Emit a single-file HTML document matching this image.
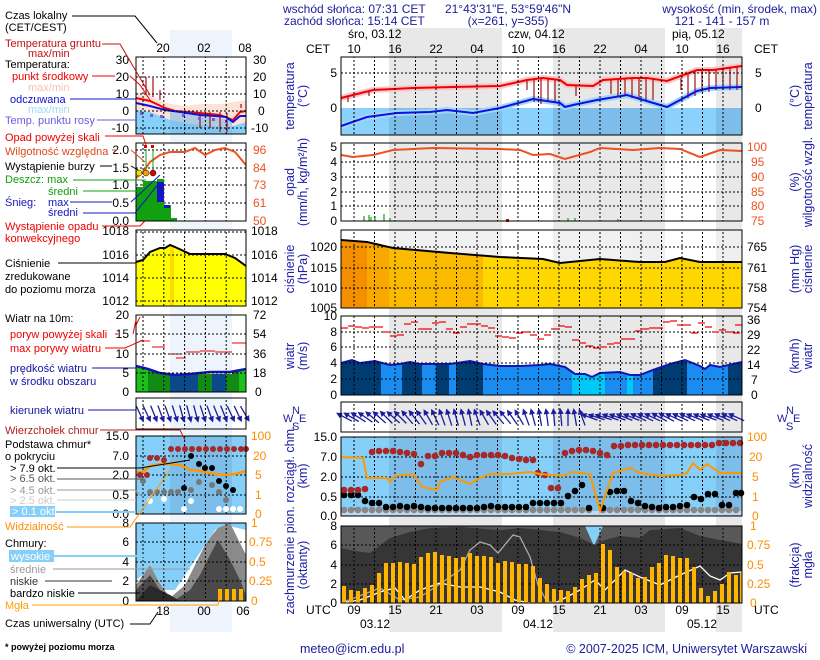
<!DOCTYPE html>
<html><head><meta charset="utf-8"><style>
body{margin:0;background:#fff}
svg{display:block;font-family:"Liberation Sans",sans-serif}
</style></head><body>
<svg width="820" height="660" viewBox="0 0 820 660" xmlns="http://www.w3.org/2000/svg" font-size="12">
<defs>
<pattern id="vg" x="353.5" y="0" width="20.5" height="4" patternUnits="userSpaceOnUse"><rect x="0" y="0" width="1" height="2" fill="#000"/></pattern>
<pattern id="vgl" x="142.5" y="0" width="20.8" height="4" patternUnits="userSpaceOnUse"><rect x="0" y="0" width="1" height="2" fill="#000"/></pattern>
<g id="ar"><line x1="0" y1="9" x2="0" y2="-7" stroke="#1c1c9c" stroke-width="1.3"/><path d="M0,-9 L-3,-3 L3,-3Z" fill="#1c1c9c"/></g>
</defs>
<g fill="#e8e8e8"><rect x="389" y="28" width="113" height="604"/><rect x="553" y="28" width="112" height="604"/><rect x="716" y="28" width="26" height="604"/></g>
<rect x="170" y="30" width="62" height="602" fill="#eef4fc"/>

<g fill="#1c1c9c" font-size="12">
<text x="283" y="13">wschód słońca: 07:31 CET</text>
<text x="284" y="25">zachód słońca: 15:14 CET</text>
<text x="508" y="13" text-anchor="middle">21°43'31"E, 53°59'46"N</text>
<text x="508" y="25" text-anchor="middle">(x=261, y=355)</text>
<text x="817" y="13" text-anchor="end">wysokość (min, środek, max)</text>
<text x="722" y="25" text-anchor="middle">121 - 141 - 157 m</text>
</g>
<g fill="#000">
<text x="348" y="38">śro, 03.12</text><text x="508" y="38">czw, 04.12</text><text x="672" y="38">pią, 05.12</text>
<text x="306" y="53">CET</text><text x="754" y="53">CET</text>
<g text-anchor="middle"><text x="354" y="53">10</text><text x="395" y="53">16</text><text x="436" y="53">22</text><text x="477" y="53">04</text><text x="518" y="53">10</text><text x="559" y="53">16</text><text x="600" y="53">22</text><text x="641" y="53">04</text><text x="682" y="53">10</text><text x="723" y="53">16</text>
<text x="354" y="614">09</text><text x="395" y="614">15</text><text x="436" y="614">21</text><text x="477" y="614">03</text><text x="518" y="614">09</text><text x="559" y="614">15</text><text x="600" y="614">21</text><text x="641" y="614">03</text><text x="682" y="614">09</text><text x="723" y="614">15</text>
<text x="375" y="628">03.12</text><text x="538" y="628">04.12</text><text x="702" y="628">05.12</text></g>
<text x="306" y="614">UTC</text><text x="754" y="614">UTC</text>
</g>

<!-- P1 -->
<rect x="341" y="57" width="401" height="78" fill="#fff"/>
<g fill="#e8e8e8"><rect x="389" y="57" width="113" height="51"/><rect x="553" y="57" width="112" height="51"/><rect x="716" y="57" width="26" height="51"/></g>
<rect x="341" y="108" width="401" height="27" fill="#8ad2fb"/>
<g fill="#7cbde9"><rect x="389" y="108" width="113" height="27"/><rect x="553" y="108" width="112" height="27"/><rect x="716" y="108" width="26" height="27"/></g>
<polyline points="341,126 367,117 397,113 430,112 447,110 473,113 500,108 533,99 560,103 565,107 573,105 597,100 627,95 650,102 667,107 697,91 710,88 742,87" fill="none" stroke="#9fd8fb" stroke-width="6"/>
<polyline points="341,98 373,90 413,88 453,87 500,86 527,80 543,78 560,80 567,85 593,86 603,80 633,78 647,78 667,81 697,70 713,70 742,66" fill="none" stroke="#f8c8c8" stroke-width="6"/>
<g stroke="#a01010" stroke-width="1.2">
<line x1="348" y1="96" x2="348" y2="102"/><line x1="369" y1="92" x2="369" y2="96"/><line x1="527" y1="81" x2="527" y2="90"/><line x1="534" y1="79" x2="534" y2="102"/><line x1="541" y1="78" x2="541" y2="104"/><line x1="548" y1="78" x2="548" y2="102"/><line x1="555" y1="79" x2="555" y2="102"/><line x1="576" y1="86" x2="576" y2="96"/><line x1="611" y1="79" x2="611" y2="94"/><line x1="618" y1="78" x2="618" y2="97"/><line x1="625" y1="78" x2="625" y2="95"/><line x1="632" y1="78" x2="632" y2="98"/><line x1="639" y1="78" x2="639" y2="98"/><line x1="646" y1="78" x2="646" y2="100"/><line x1="653" y1="79" x2="653" y2="100"/><line x1="681" y1="78" x2="681" y2="90"/><line x1="688" y1="74" x2="688" y2="98"/><line x1="695" y1="71" x2="695" y2="96"/><line x1="702" y1="70" x2="702" y2="92"/><line x1="709" y1="70" x2="709" y2="92"/><line x1="716" y1="69" x2="716" y2="90"/><line x1="723" y1="68" x2="723" y2="90"/><line x1="730" y1="68" x2="730" y2="90"/><line x1="737" y1="67" x2="737" y2="90"/>
</g>
<polyline points="341,98 373,90 413,88 453,87 500,86 527,80 543,78 560,80 567,85 593,86 603,80 633,78 647,78 667,81 697,70 713,70 742,66" fill="none" stroke="#f00000" stroke-width="2"/>
<polyline points="341,126 367,117 397,113 430,112 447,110 473,113 500,108 533,99 560,103 565,107 573,105 597,100 627,95 650,102 667,107 697,91 710,88 742,87" fill="none" stroke="#1010e0" stroke-width="2"/>
<rect x="341" y="57" width="401" height="78" fill="url(#vg)"/>
<line x1="341" y1="73" x2="742" y2="73" stroke="#000" stroke-dasharray="2,2"/>
<rect x="341" y="57" width="401" height="78" fill="none" stroke="#000"/>
<g text-anchor="end"><text x="337" y="77">5</text><text x="337" y="112">0</text></g>
<text x="755" y="77">5</text><text x="755" y="112">0</text>

<!-- P2 -->
<rect x="341" y="143" width="401" height="78" fill="#fff"/>
<g fill="#e8e8e8"><rect x="389" y="143" width="113" height="78"/><rect x="553" y="143" width="112" height="78"/><rect x="716" y="143" width="26" height="78"/></g>
<g stroke="#000" stroke-dasharray="2,2"><line x1="341" y1="162" x2="742" y2="162"/><line x1="341" y1="177" x2="742" y2="177"/><line x1="341" y1="192" x2="742" y2="192"/><line x1="341" y1="206" x2="742" y2="206"/></g>
<rect x="341" y="143" width="401" height="78" fill="url(#vg)"/>
<g stroke="#10a010" stroke-width="1.2"><line x1="364" y1="221" x2="364" y2="216"/><line x1="369" y1="221" x2="369" y2="215"/><line x1="371" y1="221" x2="371" y2="217"/><line x1="375" y1="221" x2="375" y2="216"/><line x1="384" y1="221" x2="384" y2="214"/><line x1="390" y1="221" x2="390" y2="218"/><line x1="568" y1="221" x2="568" y2="218"/><line x1="575" y1="221" x2="575" y2="218"/><line x1="618" y1="221" x2="618" y2="219"/></g>
<rect x="506" y="219" width="3" height="3" fill="#e00000"/>
<polyline points="341,155 353,157 373,155 393,150 433,148 500,149 520,150 533,155 550,154 565,159 590,152 600,148 633,150 660,148 680,149 700,157 720,150 742,151" fill="none" stroke="#f05020" stroke-width="2"/>
<rect x="341" y="143" width="401" height="78" fill="none" stroke="#000"/>
<g text-anchor="end"><text x="337" y="151">5</text><text x="337" y="166">4</text><text x="337" y="181">3</text><text x="337" y="196">2</text><text x="337" y="210">1</text><text x="337" y="225">0</text></g>
<g fill="#f05020"><text x="747" y="151">100</text><text x="751" y="166">95</text><text x="751" y="181">90</text><text x="751" y="196">85</text><text x="751" y="210">80</text><text x="751" y="225">75</text></g>

<!-- P3 -->
<rect x="341" y="230" width="142" height="78" fill="#fbbb00"/>
<rect x="341" y="230" width="26" height="78" fill="#f49000"/>
<rect x="367" y="230" width="22" height="78" fill="#f9a800"/>
<rect x="483" y="230" width="259" height="78" fill="#ffd600"/>
<polygon points="341,230 341,240 367,242 393,248 450,253 500,257 543,259 560,263 600,259 640,262 665,262 680,258 700,262 742,262 742,230" fill="#fff"/>
<g fill="#ececec" opacity="0.8"><polygon points="389,230 389,247 450,253 500,257 502,257 502,230"/><polygon points="553,230 553,262 560,263 600,259 640,262 665,262 665,230"/><polygon points="716,230 716,262 742,262 742,230"/></g>
<polyline points="341,240 367,242 393,248 450,253 500,257 543,259 560,263 600,259 640,262 665,262 680,258 700,262 742,262" fill="none" stroke="#000" stroke-width="2"/>
<g stroke="#000" stroke-dasharray="2,2"><line x1="341" y1="247" x2="742" y2="247"/><line x1="341" y1="268" x2="742" y2="268"/><line x1="341" y1="288" x2="742" y2="288"/></g>
<rect x="341" y="230" width="401" height="78" fill="url(#vg)"/>
<rect x="341" y="230" width="401" height="78" fill="none" stroke="#000"/>
<g text-anchor="end"><text x="337" y="251">1020</text><text x="337" y="272">1015</text><text x="337" y="292">1010</text><text x="337" y="312">1005</text></g>
<text x="747" y="251">765</text><text x="747" y="272">761</text><text x="747" y="292">758</text><text x="747" y="312">754</text>

<!-- P4 -->
<rect x="341" y="316" width="401" height="79" fill="#fff"/>
<g fill="#e8e8e8"><rect x="389" y="316" width="113" height="79"/><rect x="553" y="316" width="112" height="79"/><rect x="716" y="316" width="26" height="79"/></g>
<g>
<rect x="341" y="355" width="40" height="40" fill="#003c72"/><rect x="381" y="355" width="21" height="40" fill="#1a8cf0"/><rect x="402" y="355" width="20" height="40" fill="#003c72"/><rect x="422" y="355" width="14" height="40" fill="#1a8cf0"/><rect x="436" y="355" width="13" height="40" fill="#003c72"/><rect x="449" y="355" width="7" height="40" fill="#1a8cf0"/><rect x="456" y="355" width="27" height="40" fill="#003c72"/><rect x="483" y="355" width="89" height="40" fill="#1a8cf0"/><rect x="572" y="355" width="33" height="40" fill="#00c8f8"/><rect x="605" y="355" width="22" height="40" fill="#1a8cf0"/><rect x="627" y="355" width="6" height="40" fill="#00c8f8"/><rect x="633" y="355" width="20" height="40" fill="#1a8cf0"/><rect x="653" y="355" width="34" height="40" fill="#003c72"/><rect x="687" y="355" width="41" height="40" fill="#1a8cf0"/><rect x="728" y="355" width="14" height="40" fill="#003c72"/>
</g>
<polygon points="341,316 341,363 352,360 360,363 375,361 390,365 400,364 410,362 420,364 450,364 470,361 483,364 500,366 520,366 540,365 550,364 565,367 575,374 585,374 592,377 600,373 620,372 630,375 640,375 653,370 670,364 685,360 700,366 705,369 710,365 720,367 742,362 742,316" fill="#fff"/>
<g fill="#e8e8e8"><polygon points="389,316 389,365 400,364 410,362 420,364 450,364 470,361 483,364 500,366 502,366 502,316"/><polygon points="553,316 553,365 565,367 575,374 585,374 592,377 600,373 620,372 630,375 640,375 653,370 665,366 665,316"/><polygon points="716,316 716,367 720,367 742,362 742,316"/></g>
<polyline points="341,363 352,360 360,363 375,361 390,365 400,364 410,362 420,364 450,364 470,361 483,364 500,366 520,366 540,365 550,364 565,367 575,374 585,374 592,377 600,373 620,372 630,375 640,375 653,370 670,364 685,360 700,366 705,369 710,365 720,367 742,362" fill="none" stroke="#1414b4" stroke-width="2"/>
<g stroke="#000" stroke-dasharray="2,2"><line x1="341" y1="332" x2="742" y2="332"/><line x1="341" y1="347" x2="742" y2="347"/><line x1="341" y1="363" x2="742" y2="363"/><line x1="341" y1="379" x2="742" y2="379"/></g>
<rect x="341" y="316" width="401" height="79" fill="url(#vg)"/>
<g stroke="#f00000" stroke-width="1.2">
<line x1="341" y1="328" x2="348" y2="328"/><line x1="348" y1="326" x2="355" y2="326"/><line x1="355" y1="327" x2="362" y2="327"/><line x1="362" y1="328" x2="369" y2="328"/><line x1="369" y1="327" x2="376" y2="327"/><line x1="376" y1="327" x2="383" y2="327"/><line x1="383" y1="332" x2="390" y2="332"/><line x1="390" y1="336" x2="397" y2="336"/><line x1="397" y1="335" x2="404" y2="335"/><line x1="404" y1="324" x2="411" y2="324"/><line x1="411" y1="322" x2="418" y2="322"/><line x1="418" y1="329" x2="425" y2="329"/><line x1="425" y1="329" x2="432" y2="329"/><line x1="432" y1="323" x2="439" y2="323"/><line x1="439" y1="322" x2="446" y2="322"/><line x1="446" y1="329" x2="453" y2="329"/><line x1="453" y1="333" x2="460" y2="333"/><line x1="460" y1="327" x2="467" y2="327"/><line x1="467" y1="324" x2="474" y2="324"/><line x1="474" y1="324" x2="481" y2="324"/><line x1="481" y1="326" x2="488" y2="326"/><line x1="488" y1="328" x2="495" y2="328"/><line x1="495" y1="336" x2="502" y2="336"/><line x1="502" y1="337" x2="509" y2="337"/><line x1="509" y1="338" x2="516" y2="338"/><line x1="516" y1="333" x2="523" y2="333"/><line x1="523" y1="332" x2="530" y2="332"/><line x1="530" y1="335" x2="537" y2="335"/><line x1="537" y1="339" x2="544" y2="339"/><line x1="544" y1="335" x2="551" y2="335"/><line x1="551" y1="329" x2="558" y2="329"/><line x1="558" y1="326" x2="565" y2="326"/><line x1="565" y1="327" x2="572" y2="327"/><line x1="572" y1="340" x2="579" y2="340"/><line x1="579" y1="343" x2="586" y2="343"/><line x1="586" y1="346" x2="593" y2="346"/><line x1="593" y1="348" x2="600" y2="348"/><line x1="600" y1="347" x2="607" y2="347"/><line x1="607" y1="344" x2="614" y2="344"/><line x1="614" y1="343" x2="621" y2="343"/><line x1="621" y1="339" x2="628" y2="339"/><line x1="628" y1="339" x2="635" y2="339"/><line x1="635" y1="331" x2="642" y2="331"/><line x1="642" y1="329" x2="649" y2="329"/><line x1="649" y1="328" x2="656" y2="328"/><line x1="656" y1="328" x2="663" y2="328"/><line x1="663" y1="322" x2="670" y2="322"/><line x1="670" y1="321" x2="677" y2="321"/><line x1="677" y1="325" x2="684" y2="325"/><line x1="684" y1="325" x2="691" y2="325"/><line x1="691" y1="333" x2="698" y2="333"/><line x1="698" y1="323" x2="705" y2="323"/><line x1="705" y1="327" x2="712" y2="327"/><line x1="712" y1="332" x2="719" y2="332"/><line x1="719" y1="330" x2="726" y2="330"/><line x1="726" y1="332" x2="733" y2="332"/><line x1="733" y1="333" x2="740" y2="333"/><line x1="735" y1="325" x2="742" y2="325"/>
</g>
<rect x="341" y="316" width="401" height="79" fill="none" stroke="#000"/>
<g text-anchor="end"><text x="337" y="320">10</text><text x="337" y="336">8</text><text x="337" y="351">6</text><text x="337" y="367">4</text><text x="337" y="383">2</text><text x="337" y="399">0</text></g>
<text x="747" y="324">36</text><text x="747" y="339">29</text><text x="747" y="354">22</text><text x="747" y="369">14</text><text x="751" y="384">7</text><text x="751" y="399">0</text>

<!-- P5 -->
<rect x="341" y="402" width="401" height="30" fill="#fff"/>
<g fill="#e8e8e8"><rect x="389" y="402" width="113" height="30"/><rect x="553" y="402" width="112" height="30"/><rect x="716" y="402" width="26" height="30"/></g>
<rect x="341" y="402" width="401" height="30" fill="url(#vg)"/>
<g>
<use href="#ar" transform="translate(344,417) rotate(-62)"/><use href="#ar" transform="translate(351,417) rotate(-60)"/><use href="#ar" transform="translate(358,417) rotate(-58)"/><use href="#ar" transform="translate(365,417) rotate(-55)"/><use href="#ar" transform="translate(372,417) rotate(-50)"/><use href="#ar" transform="translate(379,417) rotate(-48)"/><use href="#ar" transform="translate(386,417) rotate(-45)"/><use href="#ar" transform="translate(393,417) rotate(-48)"/><use href="#ar" transform="translate(400,417) rotate(-45)"/><use href="#ar" transform="translate(407,417) rotate(-40)"/><use href="#ar" transform="translate(414,417) rotate(-38)"/><use href="#ar" transform="translate(421,417) rotate(-35)"/><use href="#ar" transform="translate(428,417) rotate(-30)"/><use href="#ar" transform="translate(435,417) rotate(-25)"/><use href="#ar" transform="translate(442,417) rotate(-20)"/><use href="#ar" transform="translate(449,417) rotate(-18)"/><use href="#ar" transform="translate(456,417) rotate(-15)"/><use href="#ar" transform="translate(463,417) rotate(-15)"/><use href="#ar" transform="translate(470,417) rotate(-12)"/><use href="#ar" transform="translate(477,417) rotate(-20)"/><use href="#ar" transform="translate(484,417) rotate(-30)"/><use href="#ar" transform="translate(491,417) rotate(-35)"/><use href="#ar" transform="translate(498,417) rotate(-40)"/><use href="#ar" transform="translate(505,417) rotate(-40)"/><use href="#ar" transform="translate(512,417) rotate(-35)"/><use href="#ar" transform="translate(519,417) rotate(-30)"/><use href="#ar" transform="translate(526,417) rotate(-20)"/><use href="#ar" transform="translate(533,417) rotate(-15)"/><use href="#ar" transform="translate(540,417) rotate(-10)"/><use href="#ar" transform="translate(547,417) rotate(-8)"/><use href="#ar" transform="translate(554,417) rotate(-5)"/><use href="#ar" transform="translate(561,417) rotate(-5)"/><use href="#ar" transform="translate(568,417) rotate(0)"/><use href="#ar" transform="translate(575,417) rotate(-10)"/><use href="#ar" transform="translate(582,417) rotate(-20)"/><use href="#ar" transform="translate(589,417) rotate(-70)"/><use href="#ar" transform="translate(596,417) rotate(-72)"/><use href="#ar" transform="translate(603,417) rotate(-72)"/><use href="#ar" transform="translate(610,417) rotate(-70)"/><use href="#ar" transform="translate(617,417) rotate(-70)"/><use href="#ar" transform="translate(624,417) rotate(-68)"/><use href="#ar" transform="translate(631,417) rotate(-68)"/><use href="#ar" transform="translate(638,417) rotate(-65)"/><use href="#ar" transform="translate(645,417) rotate(-65)"/><use href="#ar" transform="translate(652,417) rotate(-65)"/><use href="#ar" transform="translate(659,417) rotate(-62)"/><use href="#ar" transform="translate(666,417) rotate(-62)"/><use href="#ar" transform="translate(673,417) rotate(-65)"/><use href="#ar" transform="translate(680,417) rotate(-65)"/><use href="#ar" transform="translate(687,417) rotate(-65)"/><use href="#ar" transform="translate(694,417) rotate(-68)"/><use href="#ar" transform="translate(701,417) rotate(-68)"/><use href="#ar" transform="translate(708,417) rotate(-70)"/><use href="#ar" transform="translate(715,417) rotate(-68)"/><use href="#ar" transform="translate(722,417) rotate(-66)"/><use href="#ar" transform="translate(729,417) rotate(-66)"/><use href="#ar" transform="translate(736,417) rotate(-66)"/>
</g>
<rect x="341" y="402" width="401" height="30" fill="none" stroke="#000"/>
<g fill="#1c1c9c" font-size="11"><text x="283" y="422">W</text><text x="292" y="414">N</text><text x="292" y="430">S</text><text x="299" y="422">E</text>
<text x="777" y="422">W</text><text x="786" y="414">N</text><text x="786" y="430">S</text><text x="793" y="422">E</text></g>

<!-- P6 -->
<rect x="341" y="437" width="401" height="79" fill="#86cff9"/>
<g fill="#7cbde9"><rect x="389" y="437" width="113" height="79"/><rect x="553" y="437" width="112" height="79"/><rect x="716" y="437" width="26" height="79"/></g>
<g stroke="#000" stroke-dasharray="2,2"><line x1="341" y1="457" x2="742" y2="457"/><line x1="341" y1="477" x2="742" y2="477"/><line x1="341" y1="497" x2="742" y2="497"/></g>
<rect x="341" y="437" width="401" height="79" fill="url(#vg)"/>
<rect x="341" y="511" width="401" height="4" fill="#c8d8e8"/>
<g fill="#888"><circle cx="344" cy="510" r="3.3"/><circle cx="351" cy="510" r="3.3"/><circle cx="358" cy="510" r="3.3"/><circle cx="365" cy="510" r="3.3"/><circle cx="372" cy="510" r="3.3"/><circle cx="379" cy="510" r="3.3"/><circle cx="386" cy="510" r="3.3"/><circle cx="393" cy="510" r="3.3"/><circle cx="400" cy="510" r="3.3"/><circle cx="407" cy="510" r="3.3"/><circle cx="414" cy="510" r="3.3"/><circle cx="421" cy="510" r="3.3"/><circle cx="428" cy="510" r="3.3"/><circle cx="435" cy="510" r="3.3"/><circle cx="442" cy="510" r="3.3"/><circle cx="449" cy="510" r="3.3"/><circle cx="456" cy="510" r="3.3"/><circle cx="463" cy="510" r="3.3"/><circle cx="470" cy="510" r="3.3"/><circle cx="477" cy="510" r="3.3"/><circle cx="484" cy="510" r="3.3"/><circle cx="491" cy="510" r="3.3"/><circle cx="498" cy="510" r="3.3"/><circle cx="505" cy="510" r="3.3"/><circle cx="512" cy="510" r="3.3"/><circle cx="519" cy="510" r="3.3"/><circle cx="526" cy="510" r="3.3"/><circle cx="533" cy="510" r="3.3"/><circle cx="540" cy="510" r="3.3"/><circle cx="547" cy="510" r="3.3"/><circle cx="554" cy="510" r="3.3"/><circle cx="561" cy="510" r="3.3"/><circle cx="568" cy="510" r="3.3"/><circle cx="575" cy="510" r="3.3"/><circle cx="582" cy="510" r="3.3"/><circle cx="589" cy="510" r="3.3"/><circle cx="603" cy="510" r="3.3"/><circle cx="610" cy="510" r="3.3"/><circle cx="617" cy="510" r="3.3"/><circle cx="624" cy="510" r="3.3"/><circle cx="631" cy="510" r="3.3"/><circle cx="638" cy="510" r="3.3"/><circle cx="645" cy="510" r="3.3"/><circle cx="652" cy="510" r="3.3"/><circle cx="659" cy="510" r="3.3"/><circle cx="666" cy="510" r="3.3"/><circle cx="673" cy="510" r="3.3"/><circle cx="680" cy="510" r="3.3"/><circle cx="687" cy="510" r="3.3"/><circle cx="694" cy="510" r="3.3"/><circle cx="701" cy="510" r="3.3"/><circle cx="708" cy="510" r="3.3"/><circle cx="715" cy="510" r="3.3"/><circle cx="722" cy="510" r="3.3"/><circle cx="729" cy="510" r="3.3"/><circle cx="736" cy="510" r="3.3"/></g>
<g fill="#000"><circle cx="344" cy="495" r="3.3"/><circle cx="351" cy="495" r="3.3"/><circle cx="358" cy="495" r="3.3"/><circle cx="365" cy="501" r="3.3"/><circle cx="372" cy="503" r="3.3"/><circle cx="379" cy="503" r="3.3"/><circle cx="386" cy="507" r="3.3"/><circle cx="393" cy="507" r="3.3"/><circle cx="400" cy="506" r="3.3"/><circle cx="407" cy="507" r="3.3"/><circle cx="414" cy="506" r="3.3"/><circle cx="421" cy="507" r="3.3"/><circle cx="428" cy="508" r="3.3"/><circle cx="435" cy="508" r="3.3"/><circle cx="442" cy="508" r="3.3"/><circle cx="449" cy="508" r="3.3"/><circle cx="456" cy="508" r="3.3"/><circle cx="463" cy="508" r="3.3"/><circle cx="470" cy="508" r="3.3"/><circle cx="477" cy="508" r="3.3"/><circle cx="484" cy="507" r="3.3"/><circle cx="491" cy="506" r="3.3"/><circle cx="498" cy="507" r="3.3"/><circle cx="505" cy="507" r="3.3"/><circle cx="512" cy="507" r="3.3"/><circle cx="519" cy="507" r="3.3"/><circle cx="526" cy="507" r="3.3"/><circle cx="533" cy="503" r="3.3"/><circle cx="540" cy="503" r="3.3"/><circle cx="547" cy="503" r="3.3"/><circle cx="554" cy="503" r="3.3"/><circle cx="561" cy="503" r="3.3"/><circle cx="568" cy="496" r="3.3"/><circle cx="575" cy="491" r="3.3"/><circle cx="582" cy="485" r="3.3"/><circle cx="589" cy="508" r="3.3"/><circle cx="603" cy="508" r="3.3"/><circle cx="610" cy="492" r="3.3"/><circle cx="617" cy="491" r="3.3"/><circle cx="624" cy="491" r="3.3"/><circle cx="631" cy="501" r="3.3"/><circle cx="638" cy="503" r="3.3"/><circle cx="645" cy="506" r="3.3"/><circle cx="652" cy="507" r="3.3"/><circle cx="659" cy="508" r="3.3"/><circle cx="666" cy="507" r="3.3"/><circle cx="673" cy="507" r="3.3"/><circle cx="680" cy="506" r="3.3"/><circle cx="687" cy="505" r="3.3"/><circle cx="694" cy="497" r="3.3"/><circle cx="701" cy="499" r="3.3"/><circle cx="708" cy="494" r="3.3"/><circle cx="715" cy="494" r="3.3"/><circle cx="722" cy="505" r="3.3"/><circle cx="729" cy="505" r="3.3"/><circle cx="736" cy="493" r="3.3"/><circle cx="741" cy="493" r="3.3"/></g>
<g fill="#a82828"><circle cx="344" cy="490" r="3.3"/><circle cx="351" cy="490" r="3.3"/><circle cx="358" cy="490" r="3.3"/><circle cx="365" cy="489" r="3.3"/><circle cx="372" cy="452" r="3.3"/><circle cx="379" cy="451" r="3.3"/><circle cx="386" cy="451" r="3.3"/><circle cx="393" cy="451" r="3.3"/><circle cx="400" cy="452" r="3.3"/><circle cx="407" cy="453" r="3.3"/><circle cx="414" cy="454" r="3.3"/><circle cx="421" cy="464" r="3.3"/><circle cx="428" cy="456" r="3.3"/><circle cx="435" cy="456" r="3.3"/><circle cx="442" cy="453" r="3.3"/><circle cx="449" cy="453" r="3.3"/><circle cx="456" cy="453" r="3.3"/><circle cx="463" cy="455" r="3.3"/><circle cx="470" cy="457" r="3.3"/><circle cx="477" cy="455" r="3.3"/><circle cx="484" cy="455" r="3.3"/><circle cx="491" cy="455" r="3.3"/><circle cx="498" cy="455" r="3.3"/><circle cx="505" cy="456" r="3.3"/><circle cx="512" cy="458" r="3.3"/><circle cx="519" cy="459" r="3.3"/><circle cx="526" cy="460" r="3.3"/><circle cx="533" cy="460" r="3.3"/><circle cx="538" cy="473" r="3.3"/><circle cx="545" cy="475" r="3.3"/><circle cx="551" cy="488" r="3.3"/><circle cx="558" cy="488" r="3.3"/><circle cx="565" cy="453" r="3.3"/><circle cx="572" cy="451" r="3.3"/><circle cx="579" cy="450" r="3.3"/><circle cx="586" cy="450" r="3.3"/><circle cx="593" cy="451" r="3.3"/><circle cx="600" cy="453" r="3.3"/><circle cx="607" cy="455" r="3.3"/><circle cx="614" cy="446" r="3.3"/><circle cx="621" cy="446" r="3.3"/><circle cx="628" cy="445" r="3.3"/><circle cx="635" cy="445" r="3.3"/><circle cx="642" cy="445" r="3.3"/><circle cx="649" cy="445" r="3.3"/><circle cx="656" cy="445" r="3.3"/><circle cx="663" cy="445" r="3.3"/><circle cx="670" cy="445" r="3.3"/><circle cx="677" cy="445" r="3.3"/><circle cx="684" cy="445" r="3.3"/><circle cx="691" cy="445" r="3.3"/><circle cx="698" cy="445" r="3.3"/><circle cx="705" cy="445" r="3.3"/><circle cx="712" cy="445" r="3.3"/><circle cx="719" cy="443" r="3.3"/><circle cx="726" cy="443" r="3.3"/><circle cx="733" cy="443" r="3.3"/><circle cx="740" cy="443" r="3.3"/></g>
<polyline points="341,457 363,458 367,478 387,478 390,482 395,476 413,474 422,487 437,490 440,482 453,477 470,484 480,478 490,474 510,474 530,472 540,474 563,476 573,472 590,474 600,511 613,473 630,468 640,473 660,476 680,475 687,473 693,463 700,470 707,464 720,473 742,473" fill="none" stroke="#ff9800" stroke-width="2"/>
<rect x="341" y="437" width="401" height="79" fill="none" stroke="#000"/>
<g text-anchor="end"><text x="337" y="441">15.0</text><text x="337" y="461">7.0</text><text x="337" y="481">2.0</text><text x="337" y="501">0.5</text><text x="337" y="520">0.0</text></g>
<g fill="#ff8c00"><text x="747" y="441">100</text><text x="749" y="461">20</text><text x="752" y="481">5</text><text x="752" y="501">1</text><text x="752" y="520">0</text></g>

<!-- P7 -->
<rect x="341" y="526" width="401" height="77" fill="#363636"/>
<polygon points="341,526 341,548 355,551 370,553 390,538 410,532 430,528 460,527 500,530 520,528 560,532 580,538 595,545 605,540 620,536 640,538 650,530 680,528 700,536 720,540 742,544 742,526" fill="#585858"/>
<polygon points="585,526 594,546 603,526" fill="#86cff9"/>
<g stroke="#000" stroke-dasharray="2,2"><line x1="341" y1="545" x2="742" y2="545"/><line x1="341" y1="565" x2="742" y2="565"/><line x1="341" y1="584" x2="742" y2="584"/></g>
<rect x="341" y="526" width="401" height="77" fill="url(#vg)"/>
<polyline points="341,603 380,588 400,600 420,597 440,584 460,570 470,550 480,542 490,545 498,553 513,535 520,537 530,557 538,585 547,602 560,603" fill="none" stroke="#aaa" stroke-width="1.3"/>
<polyline points="341,603 360,600 380,592 395,588 405,600 420,590 440,583 460,587 480,587 500,592 515,600 530,603 555,603 565,598 580,590 595,580 605,590 625,570 640,577 660,585 680,575 700,566 710,576 720,580 730,573 742,572" fill="none" stroke="#fff" stroke-width="1.3"/>
<g fill="#ffb400">
<rect x="342" y="586" width="4" height="17"/><rect x="349" y="590" width="4" height="13"/><rect x="356" y="591" width="4" height="12"/><rect x="363" y="588" width="4" height="15"/><rect x="370" y="585" width="4" height="18"/><rect x="377" y="573" width="4" height="30"/><rect x="384" y="563" width="4" height="40"/><rect x="391" y="563" width="4" height="40"/><rect x="398" y="562" width="4" height="41"/><rect x="405" y="563" width="4" height="40"/><rect x="412" y="564" width="4" height="39"/><rect x="419" y="557" width="4" height="46"/><rect x="426" y="553" width="4" height="50"/><rect x="433" y="552" width="4" height="51"/><rect x="440" y="555" width="4" height="48"/><rect x="447" y="556" width="4" height="47"/><rect x="454" y="558" width="4" height="45"/><rect x="461" y="557" width="4" height="46"/><rect x="468" y="553" width="4" height="50"/><rect x="475" y="556" width="4" height="47"/><rect x="482" y="556" width="4" height="47"/><rect x="489" y="557" width="4" height="46"/><rect x="496" y="563" width="4" height="40"/><rect x="503" y="561" width="4" height="42"/><rect x="510" y="562" width="4" height="41"/><rect x="517" y="564" width="4" height="39"/><rect x="524" y="564" width="4" height="39"/><rect x="531" y="566" width="4" height="37"/><rect x="538" y="578" width="4" height="25"/><rect x="545" y="584" width="4" height="19"/><rect x="552" y="589" width="4" height="14"/><rect x="559" y="590" width="4" height="13"/><rect x="566" y="591" width="4" height="12"/><rect x="573" y="587" width="4" height="16"/><rect x="580" y="579" width="4" height="24"/><rect x="587" y="575" width="4" height="28"/><rect x="594" y="573" width="4" height="30"/><rect x="601" y="544" width="4" height="59"/><rect x="608" y="550" width="4" height="53"/><rect x="615" y="567" width="4" height="36"/><rect x="622" y="571" width="4" height="32"/><rect x="629" y="573" width="4" height="30"/><rect x="636" y="578" width="4" height="25"/><rect x="643" y="577" width="4" height="26"/><rect x="650" y="567" width="4" height="36"/><rect x="657" y="563" width="4" height="40"/><rect x="664" y="555" width="4" height="48"/><rect x="671" y="556" width="4" height="47"/><rect x="678" y="558" width="4" height="45"/><rect x="685" y="558" width="4" height="45"/><rect x="692" y="567" width="4" height="36"/><rect x="699" y="588" width="4" height="15"/><rect x="706" y="596" width="4" height="7"/><rect x="713" y="591" width="4" height="12"/><rect x="720" y="584" width="4" height="19"/><rect x="727" y="572" width="4" height="31"/><rect x="734" y="575" width="4" height="28"/><rect x="740" y="573" width="2" height="30"/>
</g>
<rect x="341" y="526" width="401" height="77" fill="none" stroke="#000"/>
<g text-anchor="end"><text x="337" y="530">8</text><text x="337" y="549">6</text><text x="337" y="569">4</text><text x="337" y="588">2</text><text x="337" y="607">0</text></g>
<g fill="#ff8c00"><text x="750" y="530">1</text><text x="747" y="549">0.75</text><text x="747" y="569">0.5</text><text x="747" y="588">0.25</text><text x="750" y="607">0</text></g>

<g fill="#1c1ca8" text-anchor="middle" font-size="12.5">
<text transform="translate(294,96) rotate(-90)">temperatura</text><text transform="translate(307,96) rotate(-90)">(°C)</text>
<text transform="translate(799,96) rotate(-90)">(°C)</text><text transform="translate(812,96) rotate(-90)">temperatura</text>
<text transform="translate(294,182) rotate(-90)">opad</text><text transform="translate(307,182) rotate(-90)">(mm/h, kg/m²/h)</text>
<text transform="translate(799,182) rotate(-90)">(%)</text><text transform="translate(812,182) rotate(-90)">wilgotność wzgl.</text>
<text transform="translate(294,269) rotate(-90)">ciśnienie</text><text transform="translate(307,269) rotate(-90)">(hPa)</text>
<text transform="translate(799,269) rotate(-90)">(mm Hg)</text><text transform="translate(812,269) rotate(-90)">ciśnienie</text>
<text transform="translate(294,356) rotate(-90)">wiatr</text><text transform="translate(307,356) rotate(-90)">(m/s)</text>
<text transform="translate(799,356) rotate(-90)">(km/h)</text><text transform="translate(812,356) rotate(-90)">wiatr</text>
<text transform="translate(294,520) rotate(-90)">zachmurzenie  pion. rozciągł. chm.</text>
<text transform="translate(307,476) rotate(-90)">(km)</text><text transform="translate(307,565) rotate(-90)">(oktanty)</text>
<text transform="translate(799,476) rotate(-90)">(km)</text><text transform="translate(812,476) rotate(-90)">widzialność</text>
<text transform="translate(799,565) rotate(-90)">(frakcja)</text><text transform="translate(812,565) rotate(-90)">mgła</text>
</g>

<!-- LEFT MINI -->
<rect x="136" y="57" width="110" height="77" fill="#fff"/>
<polygon points="136,92 150,95 165,103 185,106 200,104 220,104 246,100 246,134 136,134" fill="#fde2d8"/>
<polygon points="136,110 150,112 170,120 190,124 210,126 230,127 246,122 246,134 136,134" fill="#87d0fa"/>
<polygon points="170,112 232,120 232,134 170,134" fill="#7cbde9" opacity="0.6"/>
<g stroke="#a01010" stroke-width="1.2"><line x1="146" y1="95" x2="146" y2="77"/><line x1="153" y1="97" x2="153" y2="78"/><line x1="160" y1="100" x2="160" y2="90"/><line x1="200" y1="112" x2="200" y2="128"/><line x1="210" y1="112" x2="210" y2="128"/><line x1="220" y1="112" x2="220" y2="132"/><line x1="227" y1="113" x2="227" y2="132"/><line x1="241" y1="108" x2="241" y2="104"/></g>
<polyline points="136,98 150,101 165,108 175,111 200,113 220,115 233,120 240,112 246,111" fill="none" stroke="#f00000" stroke-width="2"/>
<polyline points="136,103 150,106 165,110 180,112 200,115 215,116 226,117 233,122 240,116 246,116" fill="none" stroke="#1010e0" stroke-width="2"/>
<g fill="#7060e0"><rect x="140" y="112" width="3" height="3"/><rect x="150" y="114" width="3" height="3"/><rect x="160" y="115" width="3" height="3"/><rect x="182" y="114" width="3" height="3"/><rect x="198" y="117" width="3" height="3"/><rect x="212" y="118" width="3" height="3"/><rect x="225" y="120" width="3" height="3"/></g>
<g stroke="#000" stroke-dasharray="2,2"><line x1="136" y1="77" x2="246" y2="77"/><line x1="136" y1="94" x2="246" y2="94"/><line x1="136" y1="111" x2="246" y2="111"/><line x1="136" y1="128" x2="246" y2="128"/></g>
<rect x="136" y="57" width="110" height="77" fill="url(#vgl)"/>
<rect x="136" y="57" width="110" height="77" fill="none" stroke="#000"/>
<rect x="136" y="143" width="110" height="78" fill="#fff"/>
<g stroke="#000" stroke-dasharray="2,2"><line x1="136" y1="150" x2="246" y2="150"/><line x1="136" y1="168" x2="246" y2="168"/><line x1="136" y1="185" x2="246" y2="185"/><line x1="136" y1="203" x2="246" y2="203"/></g>
<rect x="136" y="143" width="110" height="78" fill="url(#vgl)"/>
<g fill="#10a010"><rect x="136" y="187" width="7" height="34"/><rect x="143" y="181" width="14" height="40"/><rect x="157" y="179" width="7" height="42"/><rect x="164" y="205" width="7" height="16"/><rect x="171" y="218" width="6" height="3"/></g>
<rect x="157" y="182" width="7" height="20" fill="#1414c0"/><rect x="164" y="205" width="6" height="3" fill="#1414c0"/>
<polyline points="136,178 143,172 150,162 160,155 170,152 185,152 195,148 205,155 215,150 225,148 235,152 246,165" fill="none" stroke="#f05020" stroke-width="2"/>
<g stroke="#10a010"><line x1="146" y1="173" x2="146" y2="149"/><line x1="153" y1="173" x2="153" y2="149"/></g>
<circle cx="139" cy="173" r="3" fill="#f0e000" stroke="#000" stroke-width=".5"/><circle cx="146" cy="173" r="3" fill="#f0a000" stroke="#000" stroke-width=".5"/><circle cx="153" cy="173" r="3" fill="#e00000" stroke="#000" stroke-width=".5"/>
<rect x="144" y="145" width="3" height="3" fill="#e00000"/><rect x="151" y="145" width="3" height="3" fill="#e00000"/>
<rect x="136" y="143" width="110" height="78" fill="none" stroke="#000"/>
<rect x="136" y="230" width="110" height="76" fill="#fff"/>
<polygon points="136,262 143,260 150,252 160,248 165,248 170,245 175,247 190,254 200,254 225,254 235,258 246,266 246,306 136,306" fill="#ffff00"/>
<rect x="170" y="246" width="4" height="60" fill="#ffdc00"/>
<polyline points="136,262 143,260 150,252 160,248 165,248 170,245 175,247 190,254 200,254 225,254 235,258 246,266" fill="none" stroke="#000" stroke-width="2"/>
<g stroke="#000" stroke-dasharray="2,2"><line x1="136" y1="232" x2="246" y2="232"/><line x1="136" y1="255" x2="246" y2="255"/><line x1="136" y1="278" x2="246" y2="278"/><line x1="136" y1="301" x2="246" y2="301"/></g>
<rect x="136" y="230" width="110" height="76" fill="url(#vgl)"/>
<rect x="136" y="230" width="110" height="76" fill="none" stroke="#000"/>
<rect x="136" y="315" width="110" height="77" fill="#fff"/>
<rect x="136" y="366" width="12" height="26" fill="#1cc01c"/><rect x="148" y="366" width="22" height="26" fill="#138a13"/><rect x="170" y="366" width="28" height="26" fill="#0a4a8a"/><rect x="198" y="366" width="14" height="26" fill="#138a13"/><rect x="212" y="366" width="14" height="26" fill="#0a4a8a"/><rect x="226" y="366" width="13" height="26" fill="#138a13"/><rect x="239" y="366" width="7" height="26" fill="#1cc01c"/>
<polygon points="136,315 136,366 148,369 160,373 175,375 190,374 210,372 230,372 246,369 246,315" fill="#fff"/>
<rect x="170" y="315" width="62" height="59" fill="#eef4fc"/>
<polyline points="136,366 148,369 160,373 175,375 190,374 210,372 230,372 246,369" fill="none" stroke="#1414b4" stroke-width="2.5"/>
<g stroke="#f00000"><line x1="136" y1="325" x2="140" y2="317"/><line x1="141" y1="341" x2="150" y2="341"/><line x1="152" y1="347" x2="165" y2="347"/><line x1="170" y1="354" x2="180" y2="354"/><line x1="176" y1="358" x2="186" y2="358"/><line x1="186" y1="352" x2="200" y2="352"/><line x1="200" y1="351" x2="215" y2="351"/><line x1="215" y1="352" x2="232" y2="352"/><line x1="232" y1="343" x2="246" y2="343"/></g>
<g stroke="#000" stroke-dasharray="2,2"><line x1="136" y1="334" x2="246" y2="334"/><line x1="136" y1="354" x2="246" y2="354"/><line x1="136" y1="373" x2="246" y2="373"/></g>
<rect x="136" y="315" width="110" height="77" fill="url(#vgl)"/>
<rect x="136" y="315" width="110" height="77" fill="none" stroke="#000"/>
<rect x="136" y="398" width="110" height="31" fill="#fff"/>
<rect x="170" y="398" width="62" height="31" fill="#eef4fc"/>
<rect x="136" y="398" width="110" height="31" fill="url(#vgl)"/>
<g>
<use href="#ar" transform="translate(140,414) rotate(155)"/><use href="#ar" transform="translate(147,414) rotate(155)"/><use href="#ar" transform="translate(154,414) rotate(158)"/><use href="#ar" transform="translate(161,414) rotate(160)"/><use href="#ar" transform="translate(168,414) rotate(160)"/><use href="#ar" transform="translate(175,414) rotate(162)"/><use href="#ar" transform="translate(182,414) rotate(165)"/><use href="#ar" transform="translate(189,414) rotate(165)"/><use href="#ar" transform="translate(196,414) rotate(165)"/><use href="#ar" transform="translate(203,414) rotate(162)"/><use href="#ar" transform="translate(210,414) rotate(160)"/><use href="#ar" transform="translate(217,414) rotate(158)"/><use href="#ar" transform="translate(224,414) rotate(158)"/><use href="#ar" transform="translate(231,414) rotate(155)"/><use href="#ar" transform="translate(238,414) rotate(155)"/><use href="#ar" transform="translate(245,414) rotate(150)"/>
</g>
<rect x="136" y="398" width="110" height="31" fill="none" stroke="#000"/>
<rect x="136" y="436" width="110" height="78" fill="#86cff9"/>
<rect x="170" y="436" width="62" height="78" fill="#7cbde9"/>
<g stroke="#000" stroke-dasharray="2,2"><line x1="136" y1="456" x2="246" y2="456"/><line x1="136" y1="475" x2="246" y2="475"/><line x1="136" y1="495" x2="246" y2="495"/></g>
<rect x="136" y="436" width="110" height="78" fill="url(#vgl)"/>
<polyline points="136,472 143,472 150,466 160,464 170,464 180,465 190,470 200,471 215,474 225,475 235,474 246,471" fill="none" stroke="#ff9800" stroke-width="2.5"/>
<g fill="#a82828"><circle cx="140" cy="475" r="3"/><circle cx="147" cy="475" r="3"/><circle cx="150" cy="458" r="3"/><circle cx="157" cy="458" r="3"/><circle cx="164" cy="460" r="3"/><circle cx="171" cy="449" r="3"/><circle cx="178" cy="449" r="3"/><circle cx="185" cy="449" r="3"/><circle cx="192" cy="449" r="3"/><circle cx="199" cy="449" r="3"/><circle cx="206" cy="449" r="3"/><circle cx="213" cy="449" r="3"/><circle cx="220" cy="449" r="3"/><circle cx="227" cy="449" r="3"/><circle cx="234" cy="449" r="3"/><circle cx="241" cy="449" r="3"/><circle cx="246" cy="449" r="3"/></g>
<g fill="#000"><circle cx="191" cy="456" r="3"/><circle cx="199" cy="464" r="3"/><circle cx="205" cy="468" r="3"/><circle cx="212" cy="468" r="3"/><circle cx="219" cy="481" r="3"/><circle cx="226" cy="486" r="3"/><circle cx="233" cy="490" r="3"/><circle cx="184" cy="488" r="3"/></g>
<g fill="#777"><circle cx="143" cy="481" r="3"/><circle cx="150" cy="492" r="3"/><circle cx="157" cy="492" r="3"/><circle cx="164" cy="492" r="3"/><circle cx="171" cy="492" r="3"/><circle cx="178" cy="492" r="3"/><circle cx="191" cy="490" r="3"/><circle cx="199" cy="482" r="3"/><circle cx="212" cy="485" r="3"/><circle cx="219" cy="492" r="3"/><circle cx="226" cy="500" r="3"/></g>
<g fill="#fff"><circle cx="150" cy="501" r="3"/><circle cx="164" cy="499" r="3"/><circle cx="184" cy="509" r="3"/><circle cx="191" cy="501" r="3"/><circle cx="219" cy="509" r="3"/><circle cx="226" cy="509" r="3"/><circle cx="233" cy="509" r="3"/><circle cx="240" cy="509" r="3"/></g>
<rect x="136" y="436" width="110" height="78" fill="none" stroke="#000"/>
<rect x="136" y="523" width="110" height="78" fill="#86cff9"/>
<polygon points="136,601 136,580 143,575 150,565 155,575 165,590 175,590 185,575 195,560 205,545 215,530 225,525 246,530 246,601" fill="#fff"/>
<polygon points="136,601 136,585 150,565 158,580 170,598 185,585 195,565 205,545 212,535 218,528 230,523 246,555 246,601" fill="#8a8a8a"/>
<polygon points="136,601 136,590 150,575 160,590 175,600 190,590 200,575 210,555 218,540 230,560 240,580 246,595 246,601" fill="#4a4a4a"/>
<polygon points="136,601 150,585 170,595 180,601" fill="#2a2a2a"/>
<g stroke="#000" stroke-dasharray="2,2"><line x1="136" y1="542" x2="246" y2="542"/><line x1="136" y1="562" x2="246" y2="562"/><line x1="136" y1="581" x2="246" y2="581"/></g>
<rect x="136" y="523" width="110" height="78" fill="url(#vgl)"/>
<g fill="#ffb400"><rect x="218" y="589" width="4" height="12"/><rect x="225" y="589" width="4" height="12"/><rect x="232" y="589" width="4" height="12"/><rect x="239" y="589" width="4" height="12"/></g>
<rect x="136" y="523" width="110" height="78" fill="none" stroke="#000"/>

<g text-anchor="end" fill="#000">
<text x="129" y="64">30</text><text x="129" y="81">20</text><text x="129" y="98">10</text><text x="129" y="115">0</text><text x="129" y="132">-10</text>
<text x="129" y="154">2.0</text><text x="129" y="172">1.5</text><text x="129" y="189">1.0</text><text x="129" y="207">0.5</text><text x="129" y="225">0.0</text>
<text x="129" y="235">1018</text><text x="129" y="259">1016</text><text x="129" y="282">1014</text><text x="129" y="305">1012</text>
<text x="129" y="319">20</text><text x="129" y="338">15</text><text x="129" y="358">10</text><text x="129" y="377">5</text><text x="129" y="396">0</text>
<text x="129" y="440">15.0</text><text x="129" y="460">7.0</text><text x="129" y="479">2.0</text><text x="129" y="499">0.5</text><text x="129" y="518">0.0</text>
<text x="129" y="527">8</text><text x="129" y="546">6</text><text x="129" y="566">4</text><text x="129" y="585">2</text><text x="129" y="605">0</text>
</g>
<g fill="#000">
<text x="253" y="64">30</text><text x="253" y="81">20</text><text x="253" y="98">10</text><text x="258" y="115">0</text><text x="251" y="132">-10</text>
<text x="251" y="235">1018</text><text x="251" y="259">1016</text><text x="251" y="282">1014</text><text x="251" y="305">1012</text>
<text x="253" y="319">72</text><text x="253" y="338">54</text><text x="253" y="358">36</text><text x="253" y="377">18</text><text x="255" y="396">0</text>
</g>
<g fill="#f05020"><text x="253" y="154">96</text><text x="253" y="172">84</text><text x="253" y="189">73</text><text x="253" y="207">61</text><text x="253" y="225">50</text></g>
<g fill="#ff8c00"><text x="251" y="440">100</text><text x="253" y="460">20</text><text x="255" y="479">5</text><text x="255" y="499">1</text><text x="255" y="518">0</text>
<text x="251" y="527">1</text><text x="249" y="546">0.75</text><text x="249" y="566">0.5</text><text x="249" y="585">0.25</text><text x="251" y="605">0</text></g>
<g fill="#000" text-anchor="middle"><text x="163" y="52">20</text><text x="204" y="52">02</text><text x="245" y="52">08</text><text x="163" y="615">18</text><text x="204" y="615">00</text><text x="243" y="615">06</text></g>

<g font-size="11">
<text x="5" y="19" fill="#000">Czas lokalny</text><text x="5" y="31" fill="#000">(CET/CEST)</text>
<text x="5" y="47" fill="#c01010">Temperatura gruntu</text><text x="28" y="57" fill="#c01010">max/min</text>
<text x="5" y="68" fill="#000">Temperatura:</text>
<text x="12" y="80" fill="#f00000">punkt środkowy</text>
<text x="28" y="91" fill="#f8c0b0">max/min</text>
<text x="10" y="103" fill="#1010d0">odczuwana</text>
<text x="28" y="113" fill="#a0d8f8">max/min</text>
<text x="5" y="124" fill="#6a5ce0">Temp. punktu rosy</text>
<text x="5" y="141" fill="#f00000">Opad powyżej skali</text>
<text x="5" y="155" fill="#e04818">Wilgotność względna</text>
<text x="5" y="170" fill="#000">Wystąpienie burzy</text>
<text x="5" y="183" fill="#10a010">Deszcz: max</text><text x="48" y="195" fill="#10a010">średni</text>
<text x="5" y="206" fill="#1414c0">Śnieg:</text><text x="48" y="206" fill="#1414c0">max</text><text x="48" y="216" fill="#1414c0">średni</text>
<text x="5" y="230" fill="#f00000">Wystąpienie opadu</text><text x="5" y="242" fill="#f00000">konwekcyjnego</text>
<text x="5" y="267" fill="#000">Ciśnienie</text><text x="5" y="280" fill="#000">zredukowane</text><text x="5" y="293" fill="#000">do poziomu morza</text>
<text x="5" y="322" fill="#000">Wiatr na 10m:</text>
<text x="10" y="338" fill="#f00000">poryw powyżej skali</text><text x="10" y="352" fill="#f00000">max porywy wiatru</text>
<text x="10" y="372" fill="#1414a0">prędkość wiatru</text><text x="10" y="385" fill="#1414a0">w środku obszaru</text>
<text x="10" y="414" fill="#1414a0">kierunek wiatru</text>
<text x="5" y="434" fill="#b02020">Wierzchołek chmur</text>
<text x="5" y="448" fill="#000">Podstawa chmur*</text><text x="5" y="460" fill="#000">o pokryciu</text>
<text x="10" y="472" fill="#000">&gt; 7.9 okt.</text><text x="10" y="482" fill="#555">&gt; 6.5 okt.</text><text x="10" y="494" fill="#999">&gt; 4.5 okt.</text><text x="10" y="504" fill="#ccc">&gt; 2.5 okt.</text>
<rect x="10" y="506" width="45" height="11" fill="#86cff9"/><text x="12" y="515" fill="#fff">&gt; 0.1 okt.</text>
<text x="5" y="530" fill="#ff8c00">Widzialność</text>
<text x="5" y="547" fill="#000">Chmury:</text>
<rect x="9" y="550" width="45" height="12" fill="#86cff9"/><text x="11" y="560" fill="#fff">wysokie</text>
<text x="10" y="573" fill="#999">średnie</text><text x="10" y="585" fill="#333">niskie</text><text x="10" y="597" fill="#000">bardzo niskie</text>
<text x="5" y="609" fill="#ffa000">Mgła</text>
<text x="5" y="627" fill="#000">Czas uniwersalny (UTC)</text>
<text x="5" y="650" fill="#000" font-size="9" font-weight="bold">* powyżej poziomu morza</text>
</g>
<g fill="none" stroke-width="1">
<polyline points="72,16 135,16 157,43" stroke="#000"/>
<polyline points="102,44 120,44 150,95" stroke="#c01010"/>
<polyline points="92,76 115,76" stroke="#f00000"/><polyline points="130,76 140,85 150,100" stroke="#f00000"/>
<polyline points="70,99 136,99" stroke="#1010d0"/>
<polyline points="97,120 136,120" stroke="#6a5ce0"/>
<polyline points="105,136 143,136 146,145" stroke="#f00000"/>
<polyline points="117,150 112,150" stroke="#e04818"/><polyline points="131,150 145,162" stroke="#e04818"/>
<polyline points="100,166 112,166" stroke="#000"/><polyline points="131,166 138,170" stroke="#000"/>
<polyline points="73,180 146,180" stroke="#10a010"/><polyline points="83,191 153,191" stroke="#10a010"/>
<polyline points="70,202 112,202" stroke="#1414c0"/><polyline points="131,202 160,175" stroke="#1414c0"/>
<polyline points="83,213 135,213 160,182" stroke="#1414c0"/>
<polyline points="102,226 140,226 145,221" stroke="#f00000"/>
<polyline points="58,263 136,263" stroke="#000"/>
<polyline points="115,334 118,334" stroke="#f00000"/><polyline points="133,334 136,320" stroke="#f00000"/>
<polyline points="105,348 125,348 143,340" stroke="#f00000"/>
<polyline points="92,368 136,368" stroke="#1414a0"/>
<polyline points="88,410 136,410" stroke="#1414a0"/>
<polyline points="100,430 180,430 185,440" stroke="#b02020"/>
<polyline points="57,468 140,468 190,460" stroke="#000"/>
<polyline points="57,479 143,479" stroke="#555"/>
<polyline points="57,490 135,490 143,497" stroke="#999"/>
<polyline points="57,500 136,500" stroke="#ccc"/>
<polyline points="56,512 136,512" stroke="#86cff9" stroke-width="2"/>
<polyline points="67,527 130,527 170,470" stroke="#ff9800"/>
<polyline points="54,556 170,556" stroke="#86cff9" stroke-width="2"/>
<polyline points="53,569 190,569" stroke="#999"/>
<polyline points="45,581 112,581" stroke="#333"/>
<polyline points="78,593 140,593" stroke="#000"/>
<polyline points="32,605 218,605 220,590" stroke="#ffa000"/>
<polyline points="130,624 150,624 158,612" stroke="#000"/>
</g>

<text x="300" y="653" fill="#1c1c9c" font-size="12.5">meteo@icm.edu.pl</text>
<text x="807" y="653" fill="#1c1c9c" font-size="12.5" text-anchor="end">© 2007-2025 ICM, Uniwersytet Warszawski</text>
</svg>
</body></html>
